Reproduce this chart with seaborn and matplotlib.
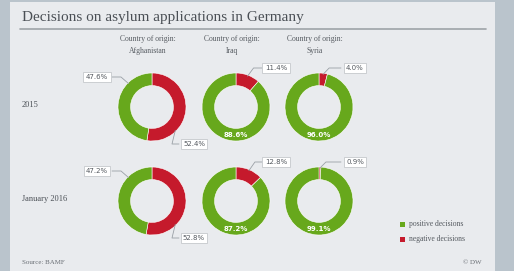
"""
Decisions on asylum applications in Germany - donut grid
"""

import numpy as np
import matplotlib.pyplot as plt
import seaborn as sns
from matplotlib.patches import Rectangle

sns.set_style('white')
plt.rcParams['font.family'] = ['Liberation Serif', 'DejaVu Serif']

# data
countries = ['Afghanistan', 'Iraq', 'Syria']
periods = ['2015', 'January 2016']
positive_2015 = [47.6, 88.6, 96.0]
negative_2015 = [52.4, 11.4, 4.0]
positive_jan2016 = [47.2, 87.2, 99.1]
negative_jan2016 = [52.8, 12.8, 0.9]
legend_labels = ['positive decisions', 'negative decisions']

GREEN = '#67a81c'
RED = '#c51a2c'
W, H = 514, 271

fig = plt.figure(figsize=(W / 100, H / 100), dpi=100, facecolor='#bac4cc')

def fx(x):
    return x / W

def fy(y):
    return 1 - y / H

# panel background
bg = fig.add_axes([fx(10), 0, fx(495) - fx(10), fy(2)], facecolor='#e9ebee')
bg.set_xticks([])
bg.set_yticks([])
for s in bg.spines.values():
    s.set_visible(False)

col_x = [152, 236, 319]
row_y = [107, 201]
R = 34
ring = 0.37

rows = [(positive_2015, negative_2015), (positive_jan2016, negative_jan2016)]
for r, (pos, neg) in enumerate(rows):
    for c in range(len(countries)):
        ax = fig.add_axes([fx(col_x[c] - R), fy(row_y[r] + R), 2 * R / W, 2 * R / H])
        ax.pie([neg[c], pos[c]], colors=[RED, GREEN], startangle=90, counterclock=False,
               radius=1, wedgeprops=dict(width=ring, edgecolor='white', linewidth=0.4))
        ax.set_xlim(-1, 1)
        ax.set_ylim(-1, 1)
        ax.set_aspect('equal')
        ax.axis('off')

# overlay in pixel coordinates
ov = fig.add_axes([0, 0, 1, 1], facecolor='none')
ov.set_xlim(0, W)
ov.set_ylim(H, 0)
ov.axis('off')

ov.text(22, 18, 'Decisions on asylum applications in Germany', fontsize=11,
        color='#4a4f55', va='center', ha='left')
ov.plot([20, 486], [29, 29], color='#9ea3a8', lw=1.2)

for c, name in enumerate(countries):
    ov.text(col_x[c] - 4, 45, 'Country of origin:\n' + name, fontsize=5.5, color='#555a60',
            ha='center', va='center', linespacing=1.6)

for r, p in enumerate(periods):
    ov.text(22, row_y[r] - 2, p, fontsize=6, color='#4a4f55', va='center', ha='left')

box = dict(boxstyle='square,pad=0.35', facecolor='white', edgecolor='#c5c8cc', linewidth=0.6)
lab = dict(fontsize=5, family='DejaVu Sans', color='#555a60', va='center', ha='center')

def ring_point(cx, cy, ang):
    a = np.deg2rad(ang)
    return cx + R * 0.97 * np.cos(a), cy - R * 0.97 * np.sin(a)

for r, (pos, neg) in enumerate(rows):
    cy = row_y[r]
    for c in range(len(countries)):
        cx = col_x[c]
        if neg[c] > 40:
            # both labels outside
            bx, by = cx - 55, cy - 30
            ov.text(bx, by, f'{pos[c]:.1f}%', bbox=box, **lab)
            px, py = ring_point(cx, cy, 135)
            ov.plot([bx + 15, bx + 24, px], [by, by, py], color='#9aa0a6', lw=0.6)
            bx, by = cx + 42, cy + 37
            ov.text(bx, by, f'{neg[c]:.1f}%', bbox=box, **lab)
            px, py = ring_point(cx, cy, -45)
            ov.plot([bx - 15, bx - 22, px], [by, by, py], color='#9aa0a6', lw=0.6)
        else:
            mid = 90 - neg[c] * 3.6 / 2
            px, py = ring_point(cx, cy, mid)
            bx, by = cx + (40 if neg[c] > 8 else 36), cy - 39
            ov.text(bx, by, f'{neg[c]:.1f}%', bbox=box, **lab)
            ov.plot([bx - 14, px + 6, px], [by, by, py], color='#9aa0a6', lw=0.6)
            ov.text(cx, cy + R - R * ring / 2, f'{pos[c]:.1f}%', fontsize=5, family='DejaVu Sans',
                    color='white', fontweight='bold', ha='center', va='center')

for i, (lbl, col) in enumerate(zip(legend_labels, [GREEN, RED])):
    y = 224 + i * 15
    ov.add_patch(Rectangle((400, y - 2.5), 5, 5, facecolor=col, edgecolor='none'))
    ov.text(409, y, lbl, fontsize=5.5, color='#555a60', va='center', ha='left')

ov.text(22, 263, 'Source: BAMF', fontsize=5, color='#6a6f75', va='center', ha='left')
ov.text(482, 262, '© DW', fontsize=5, color='#6a6f75', va='center', ha='right')

plt.savefig('out.png', dpi=100, facecolor=fig.get_facecolor())
plt.close()
